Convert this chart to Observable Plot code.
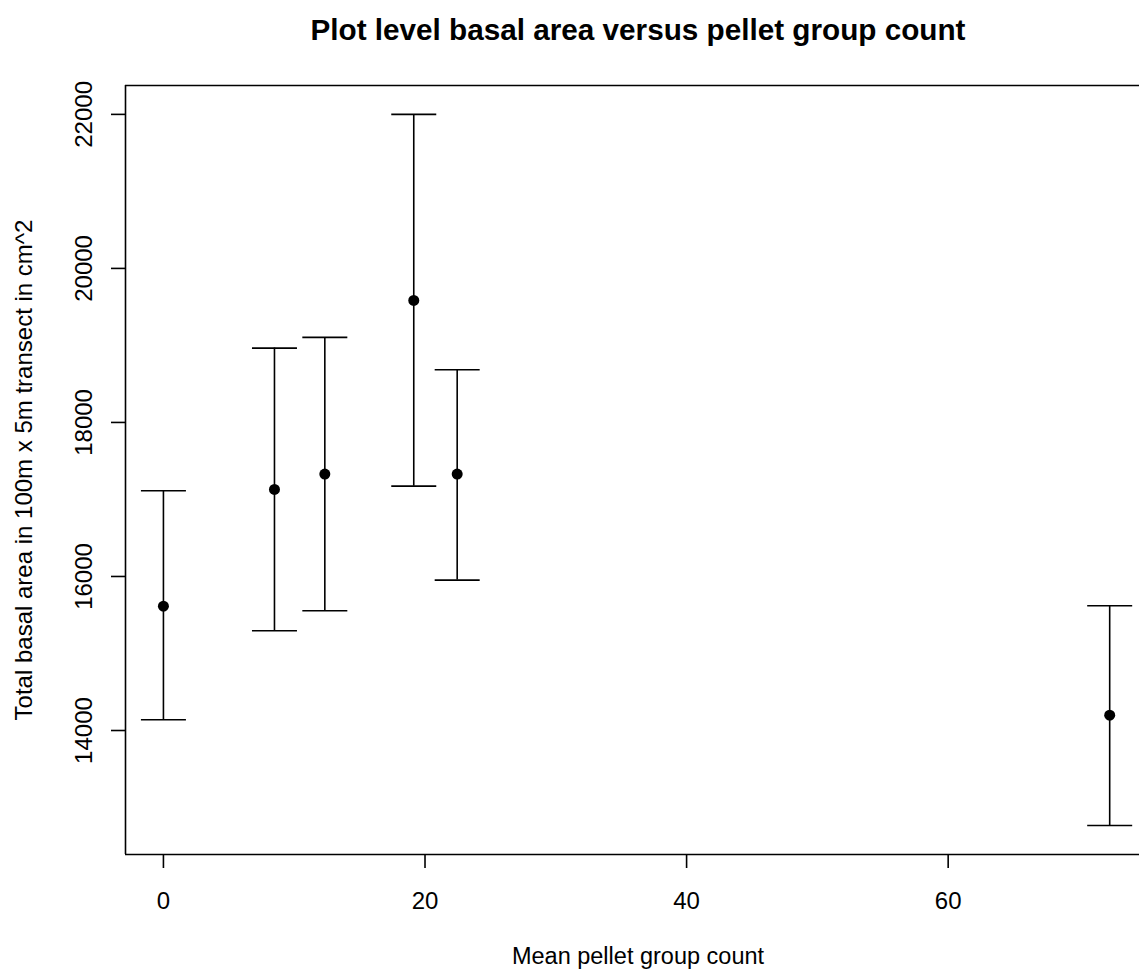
<!DOCTYPE html>
<html>
<head>
<meta charset="utf-8">
<script src="https://cdn.jsdelivr.net/npm/d3@7"></script>
<script src="https://cdn.jsdelivr.net/npm/@observablehq/plot@0.6"></script>
<style>
  html, body { margin: 0; padding: 0; background: white; overflow: hidden; }
</style>
</head>
<body>
<div id="chart"></div>
<script>
// Data
const pelletMeans = [0, 8.49, 12.34, 19.14, 22.46, 72.35];
const basalMeans  = [15614, 17130, 17329, 19584, 17329, 14199];
const basalLower  = [14139, 15295, 15555, 17173, 15953, 12766];
const basalUpper  = [17113, 18965, 19104, 22000, 18684, 15619];
const xTicks = [0, 20, 40, 60];
const yTicks = [14000, 16000, 18000, 20000, 22000];
const xDomain = [-2.9, 75.47];
const yDomain = [12390, 22375];

const data = pelletMeans.map((x, i) => ({x, mean: basalMeans[i], lo: basalLower[i], hi: basalUpper[i]}));

const capSymbol = {
  draw(context) {
    context.moveTo(-22.5, 0);
    context.lineTo(22.5, 0);
  }
};

const W = 1139, H = 970;
const mL = 125, mT = 85, mB = 116;

const chart = Plot.plot({
  width: W,
  height: H,
  marginLeft: mL,
  marginTop: mT,
  marginBottom: mB,
  marginRight: 0,
  style: {fontFamily: "'Liberation Sans', Arial, sans-serif", background: "white", maxWidth: "none", overflow: "hidden", color: "black"},
  x: {domain: xDomain, range: [mL, 1150]},
  y: {domain: yDomain, range: [H - mB, mT]},
  marks: [
    // box
    Plot.ruleX([xDomain[0]], {stroke: "black", strokeWidth: 1.6}),
    Plot.ruleY(yDomain, {stroke: "black", strokeWidth: 1.6}),
    // axes
    Plot.axisX({ticks: xTicks, tickSize: 14, tickPadding: 23, fontSize: 24, label: null, tickFormat: "d", strokeWidth: 1.6, color: "black"}),
    Plot.axisY({ticks: yTicks, tickSize: 14, tickPadding: 20, tickRotate: -90, fontSize: 24, label: null, tickFormat: "d", strokeWidth: 1.6, color: "black"}),
    // error bars
    Plot.ruleX(data, {x: "x", y1: "lo", y2: "hi", stroke: "black", strokeWidth: 1.6}),
    Plot.dot(data, {x: "x", y: "lo", symbol: capSymbol, fill: "none", stroke: "black", strokeWidth: 1.6}),
    Plot.dot(data, {x: "x", y: "hi", symbol: capSymbol, fill: "none", stroke: "black", strokeWidth: 1.6}),
    Plot.dot(data, {x: "x", y: "mean", r: 5.5, fill: "black", stroke: null}),
    // titles
    Plot.text(["Plot level basal area versus pellet group count"], {frameAnchor: "top", textAnchor: "middle", dx: 5.5, dy: -46, lineAnchor: "bottom", fontSize: 29.7, fontWeight: "bold", fill: "black"}),
    Plot.text(["Mean pellet group count"], {frameAnchor: "bottom", textAnchor: "middle", dx: 5.5, dy: 109, lineAnchor: "bottom", fontSize: 23.5, fill: "black"}),
    Plot.text(["Total basal area in 100m x 5m transect in cm^2"], {frameAnchor: "left", textAnchor: "middle", dx: -94, rotate: -90, lineAnchor: "bottom", fontSize: 24, fill: "black"})
  ]
});

document.getElementById("chart").appendChild(chart);
</script>
</body>
</html>
